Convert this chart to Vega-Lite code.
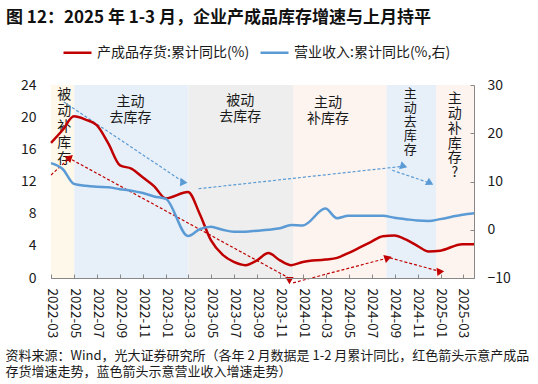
{
  "$schema": "https://vega.github.io/schema/vega-lite/v6.json",
  "width": 423,
  "height": 193,
  "autosize": {"type": "none"},
  "padding": {"left": 51, "top": 85, "right": 64, "bottom": 106},
  "background": "#ffffff",
  "config": {"font": "Noto Sans CJK SC", "view": {"stroke": null}, "axis": {"grid": false}, "axisLeft": {"labelOverlap": false, "labelFontSize": 14, "labelColor": "#1a1a1a", "tickSize": -4, "labelPadding": 19, "tickColor": "#888888", "domainColor": "#888888", "labelFlush": false, "zindex": 1}},
  "title": {"text": "图 12：2025 年 1-3 月，企业产成品库存增速与上月持平", "anchor": "start", "frame": "group", "dx": -45, "dy": 5, "offset": 15, "fontSize": 17, "fontWeight": "bold", "color": "#111111"},
  "datasets": {
    "inv": [
      {"d":"2022-02-28","v":16.8},{"d":"2022-03-31","v":18.4},{"d":"2022-04-30","v":20.1},{"d":"2022-05-31","v":19.7},{"d":"2022-06-30","v":19.0},{"d":"2022-07-31","v":16.7},{"d":"2022-08-31","v":14.0},{"d":"2022-09-30","v":13.6},{"d":"2022-10-31","v":12.5},{"d":"2022-11-30","v":11.4},{"d":"2022-12-31","v":9.9},
      {"d":"2023-02-28","v":10.7},{"d":"2023-03-31","v":8.0},{"d":"2023-04-30","v":4.7},{"d":"2023-05-31","v":2.9},{"d":"2023-06-30","v":2.0},{"d":"2023-07-31","v":1.6},{"d":"2023-08-31","v":2.2},{"d":"2023-09-30","v":3.1},{"d":"2023-10-31","v":2.2},{"d":"2023-11-30","v":1.6},{"d":"2023-12-31","v":2.0},
      {"d":"2024-02-29","v":2.3},{"d":"2024-03-31","v":2.5},{"d":"2024-04-30","v":3.1},{"d":"2024-05-31","v":3.8},{"d":"2024-06-30","v":4.5},{"d":"2024-07-31","v":5.2},{"d":"2024-08-31","v":5.3},{"d":"2024-09-30","v":4.8},{"d":"2024-10-31","v":4.0},{"d":"2024-11-30","v":3.3},{"d":"2024-12-31","v":3.4},
      {"d":"2025-02-28","v":4.2},{"d":"2025-03-31","v":4.2}
    ],
    "rev": [
      {"d":"2022-02-28","v":13.8},{"d":"2022-03-31","v":12.6},{"d":"2022-04-30","v":9.5},{"d":"2022-05-31","v":9.1},{"d":"2022-06-30","v":8.9},{"d":"2022-07-31","v":8.8},{"d":"2022-08-31","v":8.4},{"d":"2022-09-30","v":8.1},{"d":"2022-10-31","v":7.6},{"d":"2022-11-30","v":6.9},{"d":"2022-12-31","v":6.4},
      {"d":"2023-02-28","v":-1.3},{"d":"2023-03-31","v":0.1},{"d":"2023-04-30","v":0.6},{"d":"2023-05-31","v":0.0},{"d":"2023-06-30","v":-0.4},{"d":"2023-07-31","v":-0.4},{"d":"2023-08-31","v":-0.2},{"d":"2023-09-30","v":0.0},{"d":"2023-10-31","v":0.3},{"d":"2023-11-30","v":1.0},{"d":"2023-12-31","v":0.9},
      {"d":"2024-02-29","v":4.4},{"d":"2024-03-31","v":2.4},{"d":"2024-04-30","v":2.9},{"d":"2024-05-31","v":2.9},{"d":"2024-06-30","v":2.9},{"d":"2024-07-31","v":2.9},{"d":"2024-08-31","v":2.5},{"d":"2024-09-30","v":2.2},{"d":"2024-10-31","v":1.9},{"d":"2024-11-30","v":1.8},{"d":"2024-12-31","v":2.2},
      {"d":"2025-02-28","v":3.1},{"d":"2025-03-31","v":3.4}
    ],
    "bands": [
      {"start":"2022-02-28","end":"2022-05-01","phase":"被动补库存"},
      {"start":"2022-05-01","end":"2023-03-01","phase":"主动去库存"},
      {"start":"2023-03-01","end":"2023-12-06","phase":"被动去库存"},
      {"start":"2023-12-06","end":"2024-08-10","phase":"主动补库存"},
      {"start":"2024-08-10","end":"2024-12-20","phase":"主动去库存"},
      {"start":"2024-12-20","end":"2025-03-31","phase":"主动补库存"}
    ],
    "arrows": [
      {"id":"r1","s":"r","t0":"2022-02-28","v0":12.8,"t1":"2022-04-20","v1":15.0},
      {"id":"r2","s":"r","t0":"2022-04-25","v0":14.7,"t1":"2023-11-28","v1":-0.1},
      {"id":"r3","s":"r","t0":"2023-12-05","v0":-0.6,"t1":"2024-08-14","v1":2.5},
      {"id":"r4","s":"r","t0":"2024-08-19","v0":2.5,"t1":"2025-01-01","v1":0.8},
      {"id":"b1","s":"b","t0":"2022-04-03","v0":21.9,"t1":"2023-02-17","v1":11.9},
      {"id":"b2","s":"b","t0":"2023-03-28","v0":11.1,"t1":"2024-09-25","v1":13.9},
      {"id":"b3","s":"b","t0":"2024-08-25","v0":13.4,"t1":"2024-12-04","v1":11.8}
    ],
    "labels": [
      {"d":"2022-04-04","v":23.6,"label":"被\n动\n补\n库\n存"},
      {"d":"2022-09-28","v":22.8,"label":"主动\n去库存"},
      {"d":"2023-07-17","v":22.9,"label":"被动\n去库存"},
      {"d":"2024-03-07","v":22.6,"label":"主动\n补库存"}
    ],
    "labels2": [
      {"d":"2024-10-12","v":23.6,"label":"主\n动\n去\n库\n存"}
    ],
    "labels3": [
      {"d":"2025-02-08","v":23.1,"label":"主\n动\n补\n库\n存\n?"}
    ]
  },
  "layer": [
    {
      "layer": [
        {
          "data": {"name": "bands"},
          "mark": {"type": "rect"},
          "encoding": {
            "x": {"field": "start", "type": "temporal", "scale": {"type": "utc", "domain": [{"year":2022,"month":2,"date":28,"utc":true},{"year":2025,"month":3,"date":31,"utc":true}]}},
            "x2": {"field": "end"},
            "fill": {"field": "phase", "type": "nominal", "scale": {"domain": ["被动补库存","主动去库存","被动去库存","主动补库存"], "range": ["#fdf8ea","#e7eff8","#eeeeee","#fdf3ef"]}, "legend": null}
          }
        },
        {
          "data": {"name": "labels"},
          "mark": {"type": "text", "baseline": "top", "align": "center", "fontSize": 14, "lineBreak": "\n", "lineHeight": 16, "color": "#1a1a1a"},
          "encoding": {
            "x": {"field": "d", "type": "temporal", "scale": {"type": "utc"}},
            "y": {"field": "v", "type": "quantitative", "scale": {"domain": [0, 24]}, "axis": {"values": [0,4,8,12,16,20,24], "title": null}},
            "text": {"field": "label"}
          }
        },
        {
          "data": {"name": "labels2"},
          "mark": {"type": "text", "baseline": "top", "align": "center", "fontSize": 13, "lineBreak": "\n", "lineHeight": 14, "color": "#1a1a1a"},
          "encoding": {
            "x": {"field": "d", "type": "temporal", "scale": {"type": "utc"}},
            "y": {"field": "v", "type": "quantitative", "scale": {"domain": [0, 24]}, "axis": {"values": [0,4,8,12,16,20,24], "title": null}},
            "text": {"field": "label"}
          }
        },
        {
          "data": {"name": "labels3"},
          "mark": {"type": "text", "baseline": "top", "align": "center", "fontSize": 14, "lineBreak": "\n", "lineHeight": 14.8, "color": "#1a1a1a"},
          "encoding": {
            "x": {"field": "d", "type": "temporal", "scale": {"type": "utc"}},
            "y": {"field": "v", "type": "quantitative", "scale": {"domain": [0, 24]}, "axis": {"values": [0,4,8,12,16,20,24], "title": null}},
            "text": {"field": "label"}
          }
        },
        {
          "data": {"name": "arrows"},
          "mark": {"type": "rule", "strokeDash": [3, 2], "strokeWidth": 1.2, "clip": false},
          "encoding": {
            "x": {"field": "t0", "type": "temporal", "scale": {"type": "utc"}},
            "y": {"field": "v0", "type": "quantitative", "scale": {"domain": [0, 24]}, "axis": {"values": [0,4,8,12,16,20,24], "title": null}},
            "x2": {"field": "t1"},
            "y2": {"field": "v1"},
            "color": {"condition": {"test": "datum.s === 'r'", "value": "#c00000"}, "value": "#5b9bd5"}
          }
        },
        {
          "data": {"name": "arrows"},
          "mark": {"type": "point", "shape": "triangle-up", "filled": true, "size": 70, "opacity": 1},
          "encoding": {
            "x": {"field": "t1", "type": "temporal", "scale": {"type": "utc"}},
            "y": {"field": "v1", "type": "quantitative", "scale": {"domain": [0, 24]}, "axis": {"values": [0,4,8,12,16,20,24], "title": null}},
            "angle": {"field": "id", "type": "nominal", "scale": {"domain": ["r1","r2","r3","r4","b1","b2","b3"], "range": [48.5,118.8,75.3,105.1,124,83.6,108.4]}, "legend": null},
            "color": {"condition": {"test": "datum.s === 'r'", "value": "#c00000"}, "value": "#5b9bd5"}
          }
        },
        {
          "data": {"name": "inv"},
          "mark": {"type": "line", "interpolate": "monotone", "strokeWidth": 2.5},
          "encoding": {
            "x": {"field": "d", "type": "temporal", "scale": {"type": "utc"},
              "axis": {"format": "%Y-%m", "tickCount": {"interval": "month", "step": 2}, "labelAngle": 90, "labelAlign": "left", "labelBaseline": "middle", "labelFontSize": 13.5, "labelColor": "#1a1a1a", "labelPadding": 14, "tickSize": -4, "tickColor": "#888888", "domainColor": "#888888", "labelFlush": false, "labelOverlap": false, "zindex": 1,
                "title": ["资料来源：Wind，光大证券研究所（各年 2 月数据是 1-2 月累计同比，红色箭头示意产成品", "存货增速走势，蓝色箭头示意营业收入增速走势）"],
                "titleX": -46, "titleY": 71, "titleAlign": "left", "titleBaseline": "top", "titleAngle": 0, "titleFontSize": 13, "titleFontWeight": "normal", "titleColor": "#1a1a1a", "titleLineHeight": 16.7}},
            "y": {"field": "v", "type": "quantitative", "scale": {"domain": [0, 24]},
              "axis": {"values": [0,4,8,12,16,20,24], "title": null}},
            "color": {"datum": "产成品存货:累计同比(%)", "type": "nominal",
              "scale": {"domain": ["产成品存货:累计同比(%)", "营业收入:累计同比(%,右)"], "range": ["#c00000", "#5b9bd5"]},
              "legend": {"orient": "none", "legendX": 11, "legendY": -48, "direction": "horizontal", "symbolType": "stroke", "symbolSize": 784, "symbolStrokeWidth": 2.5, "labelFontSize": 14, "labelColor": "#1a1a1a", "title": null, "columnPadding": 5, "labelOffset": 4}}
          }
        }
      ]
    },
    {
      "data": {"name": "rev"},
      "mark": {"type": "line", "interpolate": "monotone", "strokeWidth": 2.5},
      "encoding": {
        "x": {"field": "d", "type": "temporal", "scale": {"type": "utc"}},
        "y": {"field": "v", "type": "quantitative", "scale": {"domain": [-10, 30]},
          "axis": {"orient": "right", "values": [-10,0,10,20,30], "labelFontSize": 14, "labelColor": "#1a1a1a", "tickSize": -4, "labelPadding": 17, "tickColor": "#888888", "domainColor": "#888888", "title": null, "labelFlush": false, "labelOverlap": false, "zindex": 1}},
        "color": {"datum": "营业收入:累计同比(%,右)", "type": "nominal",
          "scale": {"domain": ["产成品存货:累计同比(%)", "营业收入:累计同比(%,右)"], "range": ["#c00000", "#5b9bd5"]}}
      }
    }
  ],
  "resolve": {"scale": {"y": "independent"}}
}
